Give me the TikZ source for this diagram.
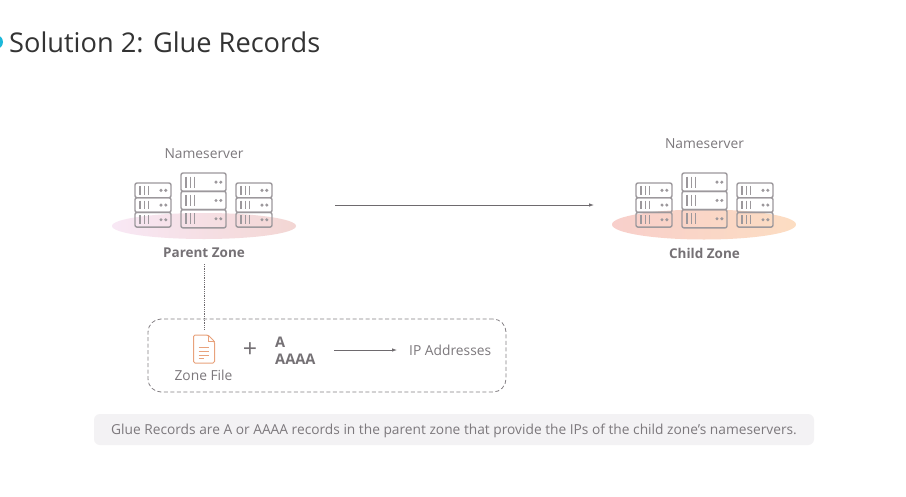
\documentclass[tikz,border=0pt]{standalone}
\usepackage{fontspec}
\setmainfont{Open Sans}
\usetikzlibrary{arrows.meta}
\definecolor{srv}{HTML}{9C989C}
\definecolor{lbl}{HTML}{7C787C}
\definecolor{boldlbl}{HTML}{757175}
\definecolor{linec}{HTML}{6E6A6E}
\definecolor{filec}{HTML}{E8A27C}
\definecolor{dotc}{HTML}{1CB8DA}
\definecolor{pzl}{HTML}{F8E8F5}
\definecolor{pzr}{HTML}{F3D6D3}
\definecolor{czl}{HTML}{F8CFCB}
\definecolor{czr}{HTML}{FCDDC2}
\definecolor{capbg}{HTML}{F3F2F4}
\tikzset{
  x=1pt,y=-1pt,
  lbltext/.style={text=lbl,font=\fontsize{13.8}{16}\selectfont,inner sep=0pt,anchor=center},
  boldtext/.style={text=boldlbl,font=\fontsize{13.5}{16}\selectfont\bfseries,inner sep=0pt,anchor=center},
  rectext/.style={text=boldlbl,font=\fontsize{14.6}{16}\selectfont\bfseries,inner sep=0pt,anchor=west},
  srvbox/.style={draw=srv,line width=1.4pt,rounded corners=2pt},
  srvmark/.style={draw=srv,line width=1.3pt},
  arrowline/.style={draw=linec,line width=0.8pt,-{Latex[length=5pt,width=3.5pt]}},
}
\newcommand\srvrow[4]{%
  \draw[srvbox] (#1,#2) rectangle ++(#3,#4);
  \foreach \k in {0,1,2}{\draw[srvmark] ({#1+5+\k*4.2},{#2+0.2*#4}) -- ++(0,{0.6*#4});}
  \fill[srv] ({#1+#3-10},{#2+0.5*#4}) circle (1.7pt);
  \fill[srv] ({#1+#3-5.2},{#2+0.5*#4}) circle (1.7pt);
}
\newcommand\srvcluster[2]{%
  \foreach \r in {0,1,2}{%
    \srvrow{#1+0}{#2+10+\r*14.7}{36}{14.7}
    \srvrow{#1+46}{#2+\r*18.3}{45}{18.3}
    \srvrow{#1+101}{#2+10+\r*14.7}{36}{14.7}
  }%
}
\begin{document}
\begin{tikzpicture}
\useasboundingbox (0,0) rectangle (906,496);
\fill[white] (0,0) rectangle (906,496);
\fill[dotc] (-4,42) circle (7pt);
\node[anchor=west,inner sep=0pt,text=black!80,font=\fontsize{27.2}{32}\selectfont] (title) at (9,42) {Solution 2: Glue Records};

\shade[left color=pzl,right color=pzr] (204,226) ellipse (92 and 13);
\shade[left color=czl,right color=czr] (704,224.5) ellipse (92 and 15);
\srvcluster{135}{173}
\srvcluster{636}{173}

\node[lbltext] (ns1) at (204,154) {Nameserver};
\node[lbltext] (ns2) at (704.5,144) {Nameserver};
\node[boldtext] (pz) at (204,253) {Parent Zone};
\node[boldtext] (cz) at (704.5,253) {Child Zone};

\coordinate (arrS) at (335,205);
\coordinate (arrE) at (594,205);
\draw[arrowline] (arrS) -- (arrE);

\node[draw=linec!85,dash pattern=on 4pt off 2.5pt,line width=0.8pt,rounded corners=13pt,minimum width=358pt,minimum height=73pt,inner sep=0pt] (zb) at (327,355.5) {};
\coordinate (fileTop) at (204,329);
\draw[draw=linec,line width=0.8pt,densely dotted] (pz.south -| fileTop) ++(0,6) coordinate (dotS) (dotS) -- (fileTop);

\draw[filec,line width=1pt,rounded corners=1.5pt,line join=round] (193.5,335) -- (208,335) -- (214.5,341.5) -- (214.5,363) -- (193.5,363) -- cycle;
\draw[filec,line width=0.8pt] (208,335) -- (208,341.5) -- (214.5,341.5);
\foreach \yy/\xe in {347/209,351/209,355/209,358.5/204}{\draw[filec,line width=0.9pt] (198.5,\yy) -- (\xe,\yy);}

\node[lbltext] (zf) at (203.5,375) {Zone File};
\node[inner sep=0pt,text=boldlbl,font=\fontsize{25}{27}\selectfont] (plus) at (250,350) {+};
\node[rectext] (recA) at (275,342) {A};
\node[rectext] (recAAAA) at (275,359) {AAAA};
\node[lbltext,anchor=west] (ip) at (409,350) {IP Addresses};
\coordinate (a2S) at (334,350);
\coordinate (a2E) at (397,350);
\draw[arrowline] (a2S) -- (a2E);

\node[fill=capbg,rounded corners=6pt,minimum width=720pt,minimum height=31pt,inner sep=0pt] (capbox) at (454,429.5) {};
\node[inner sep=0pt,text=lbl,font=\fontsize{13.75}{16}\selectfont] (cap) at (454,431) {Glue Records are A or AAAA records in the parent zone that provide the IPs of the child zone's nameservers.};
\end{tikzpicture}
\end{document}
